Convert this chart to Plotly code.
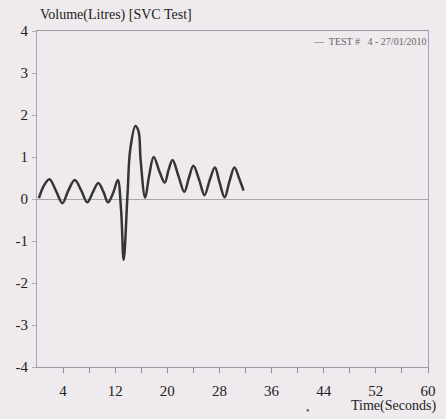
import plotly.graph_objects as go

# Spirometer trace: volume (litres) against time (seconds)
time_s = [0.3, 1.0, 1.9, 2.9, 3.9, 4.8, 5.8, 6.8, 7.7, 8.6, 9.4, 10.2, 10.9, 11.7,
          12.4, 12.9, 13.3, 13.9, 14.3, 15.1, 15.6, 15.9, 16.6, 17.2, 17.9, 18.8,
          19.6, 20.2, 20.8, 21.7, 22.6, 23.3, 24.0, 24.9, 25.7, 26.5, 27.3, 28.0,
          28.8, 29.5, 30.3, 31.0, 31.7]
volume_l = [0.02, 0.30, 0.47, 0.20, -0.10, 0.20, 0.45, 0.20, -0.08, 0.17, 0.38, 0.17,
            -0.08, 0.15, 0.45, -0.26, -1.45, 0.14, 1.17, 1.74, 1.60, 0.93, 0.03, 0.55,
            1.00, 0.65, 0.39, 0.70, 0.93, 0.55, 0.17, 0.50, 0.79, 0.45, 0.09, 0.45,
            0.75, 0.40, 0.04, 0.40, 0.75, 0.50, 0.20]

x_ticks = [4, 8, 12, 16, 20, 24, 28, 32, 36, 40, 44, 48, 52, 56, 60]
x_tick_text = ["4", "", "12", "", "20", "", "28", "", "36", "", "44", "", "52", "", "60"]
y_ticks = [-4, -3, -2, -1, 0, 1, 2, 3, 4]
y_tick_text = ["-4", "-3", "-2", "-1", "0", "1", "2", "3", "4"]

serif = "Liberation Serif"
bg = "#eeeaed"

fig = go.Figure()
fig.add_trace(go.Scatter(
    x=time_s, y=volume_l, mode="lines",
    line=dict(color="#353535", width=2.5, shape="spline", smoothing=1.0),
    name="TEST #  4 - 27/01/2010", showlegend=False,
))

fig.update_layout(
    width=446, height=419,
    margin=dict(l=37, r=18, t=31, b=52, autoexpand=False),
    paper_bgcolor=bg, plot_bgcolor=bg,
    font=dict(family=serif, size=15, color="#222222"),
    title=dict(text="Volume(Litres) [SVC Test]", xref="container", yref="container",
               x=40 / 446, xanchor="left", y=1 - 14 / 419, yanchor="middle",
               font=dict(family=serif, size=14, color="#222222")),
    xaxis=dict(
        range=[0, 60], tickvals=x_ticks, ticktext=x_tick_text,
        ticks="outside", ticklen=5, tickcolor="#8a8f98", tickwidth=1,
        showline=True, linecolor="#9a9aa0", linewidth=1.2, mirror=True,
        showgrid=False, zeroline=False, ticklabelstandoff=5, automargin=False,
        tickfont=dict(family=serif, size=15, color="#222222"),
    ),
    yaxis=dict(
        range=[-4, 4], tickvals=y_ticks, ticktext=y_tick_text,
        ticks="outside", ticklen=4, tickcolor="#c7a9a0", tickwidth=1,
        showline=True, linecolor="#a99ec0", linewidth=1.2, mirror=True,
        showgrid=False, zeroline=True, zerolinecolor="#a8a8a8", zerolinewidth=1.2,
        ticklabelstandoff=1, automargin=False,
        tickfont=dict(family=serif, size=15, color="#222222"),
    ),
    annotations=[
        dict(text="—  TEST #   4 - 27/01/2010", xref="paper", yref="paper",
             x=1.0, y=0.968, xanchor="right", yanchor="middle", showarrow=False,
             font=dict(family=serif, size=10, color="#666666")),
        dict(text="Time(Seconds)", xref="paper", yref="paper",
             x=1.025, y=-0.117, xanchor="right", yanchor="middle", showarrow=False,
             font=dict(family=serif, size=14, color="#222222")),
        dict(text="•", xref="paper", yref="paper",
             x=0.693, y=-0.128, xanchor="center", yanchor="middle", showarrow=False,
             font=dict(family=serif, size=10, color="#555555")),
    ],
)

fig.write_html("out.html")
